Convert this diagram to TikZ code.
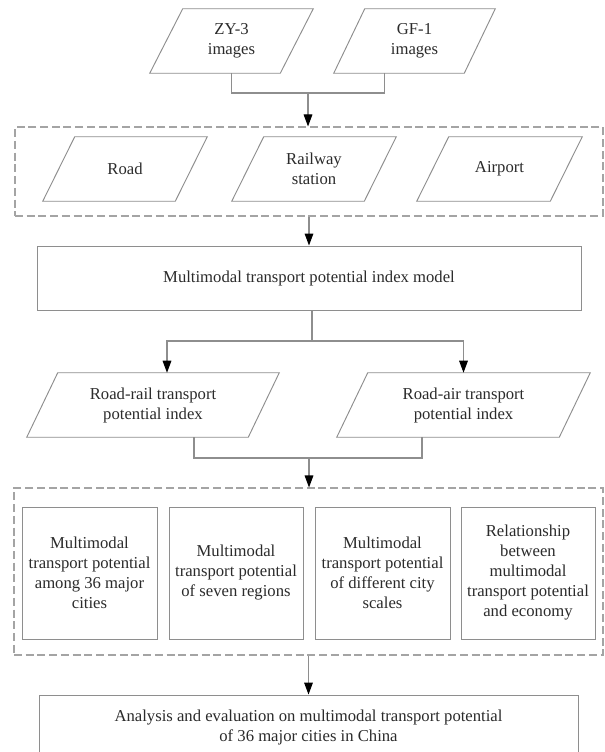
\documentclass[tikz,border=0pt]{standalone}
\usepackage{fontspec}
\setmainfont{Liberation Serif}
\usetikzlibrary{arrows.meta}
\definecolor{linegray}{HTML}{8E8E8E}
\definecolor{dashgray}{HTML}{A4A4A4}
\definecolor{txt}{HTML}{2B2B2B}
\newcommand\paranode[7]{% name, cx, cy, width px, slant px, text
  \node[paratext, minimum width=#4*0.75pt] (#1) at (#2,#3) {#6};
  \draw[shapeline] (#1.south west) -- ([xshift=#5*0.75pt]#1.north west) -- (#1.north east) -- ([xshift=-#5*0.75pt]#1.south east) -- cycle;
}
\begin{document}
\begin{tikzpicture}[x=0.75pt,y=-0.75pt,
  every node/.style={font=\fontsize{12.5pt}{15pt}\selectfont, text=txt, align=center, inner sep=0pt},
  paratext/.style={minimum height=48pt},
  shapeline/.style={draw=linegray, line width=0.7pt},
  rectbox/.style={draw=linegray, line width=0.7pt},
  dashbox/.style={draw=dashgray, line width=0.8pt, dash pattern=on 6pt off 2.8pt},
  conn/.style={draw=linegray, line width=0.8pt},
  arr/.style={conn, -{Triangle[length=9pt, width=6.5pt, color=black, fill=black]}}
]
\useasboundingbox (0,0) rectangle (605,752);
\clip (0,0) rectangle (605,752);
\fill[white] (0,0) rectangle (605,752);

% top inputs
\paranode{zy}{231.5}{41}{163}{33}{ZY-3\\images}{}
\paranode{gf}{414.5}{41}{161}{31}{GF-1\\images}{}

% dashed box 1
\node[dashbox, minimum width=588*0.75pt, minimum height=89*0.75pt] (box1) at (309,171.5) {};
\paranode{road}{125}{169}{164}{32}{Road}{}
\paranode{rail}{314}{169}{164}{32}{Railway\\station}{}
\paranode{air}{499.5}{169}{165}{32}{Airport}{}

% model
\node[rectbox, minimum width=544*0.75pt, minimum height=64*0.75pt] (model) at (309,278) {Multimodal transport potential index model};

% indices
\paranode{roadrail}{153}{405}{252}{31}{Road-rail transport\\potential index}{}
\paranode{roadair}{463.5}{405}{253}{31}{Road-air transport\\potential index}{}

% dashed box 2
\node[dashbox, minimum width=589*0.75pt, minimum height=167*0.75pt] (box2) at (308.5,571.5) {};
\node[rectbox, minimum width=135*0.75pt, minimum height=132*0.75pt] (a1) at (89.5,573) {Multimodal\\transport potential\\among 36 major\\cities};
\node[rectbox, minimum width=134*0.75pt, minimum height=132*0.75pt] (a2) at (236,573) {Multimodal\\transport potential\\of seven regions};
\node[rectbox, minimum width=135*0.75pt, minimum height=132*0.75pt] (a3) at (382.5,573) {Multimodal\\transport potential\\of different city\\scales};
\node[rectbox, minimum width=134*0.75pt, minimum height=132*0.75pt] (a4) at (528,573) {Relationship\\between\\multimodal\\transport potential\\and economy};

% final
\node[rectbox, minimum width=539*0.75pt, minimum height=64*0.75pt] (final) at (308.5,727) {Analysis and evaluation on multimodal transport potential\\of 36 major cities in China};

% connectors
\coordinate (j1) at (308,93);
\draw[conn] (zy.south) |- (j1) -| ([xshift=-30*0.75pt]gf.south);
\draw[arr] (j1) -- (j1 |- box1.north);

\draw[arr] (box1.south) -- (model.north);

\coordinate (j2) at (312,341);
\draw[conn] (model.south -| j2) -- (j2);
\draw[arr] (j2) -| ([xshift=14*0.75pt]roadrail.north);
\draw[arr] (j2) -| (roadair.north);

\coordinate (j3) at (309,458);
\draw[conn] ([xshift=41*0.75pt]roadrail.south) |- (j3) -| ([xshift=-41.5*0.75pt]roadair.south);
\draw[arr] (j3) -- (j3 |- box2.north);

\draw[arr] (box2.south) -- (final.north);
\end{tikzpicture}
\end{document}
